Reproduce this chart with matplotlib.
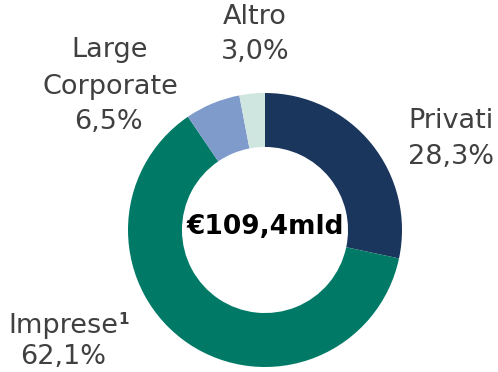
import matplotlib
matplotlib.use("Agg")
import matplotlib.pyplot as plt

# Composition by customer segment
segments = ["Privati", "Imprese", "Large Corporate", "Altro"]
shares = [28.3, 62.1, 6.5, 3.0]
colors = ["#1a365d", "#007a66", "#7f9bcc", "#cfe5df"]
total_label = "€109,4mld"

W, H = 498, 372
fig = plt.figure(figsize=(W / 100, H / 100), dpi=100)

# donut centre and outer radius in pixels
cx, cy, R = 265, 230, 137
ax = fig.add_axes([(cx - R) / W, (H - cy - R) / H, 2 * R / W, 2 * R / H])
ax.pie(shares, colors=colors, startangle=90, counterclock=False,
       radius=1, wedgeprops=dict(width=0.394, linewidth=0))
ax.set_xlim(-1, 1)
ax.set_ylim(-1, 1)
ax.set_aspect("equal")
ax.axis("off")

ax.text(0, 0.02, total_label, ha="center", va="center",
        fontsize=19, fontweight="bold", color="black")

grey = "#404040"
fs = 19.5


def pct(v):
    return f"{v:.1f}%".replace(".", ",")


def label(x, y, s, **kw):
    return fig.text(x / W, 1 - y / H, s, ha="center", va="center",
                    fontsize=fs, color=grey, **kw)


label(451, 121, segments[0])
label(451, 157, pct(shares[0]))
label(255, 17, segments[3])
label(255, 52, pct(shares[3]))
label(110, 50, "Large")
label(110, 87, "Corporate")
label(108, 122, pct(shares[2]))
imp = label(63, 326, segments[1])
label(63, 357, pct(shares[1]))
# footnote marker right after "Imprese"
ax.annotate("1", xy=(1, 0.45), xycoords=imp, xytext=(0.5, 0),
            textcoords="offset points", ha="left", va="bottom",
            fontsize=11, fontweight="bold", color=grey)

fig.savefig("out.png", dpi=100)
